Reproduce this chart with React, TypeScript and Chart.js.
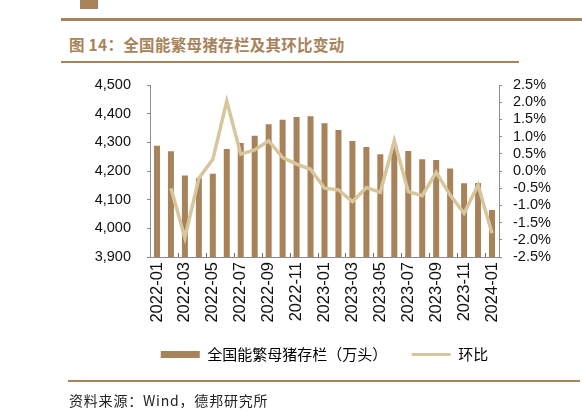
import React, { useEffect, useRef } from "react";
import { Chart, registerables } from "chart.js";

Chart.register(...registerables);

const months: string[] = [
  "2022-01", "2022-02", "2022-03", "2022-04", "2022-05", "2022-06", "2022-07",
  "2022-08", "2022-09", "2022-10", "2022-11", "2022-12", "2023-01", "2023-02",
  "2023-03", "2023-04", "2023-05", "2023-06", "2023-07", "2023-08", "2023-09",
  "2023-10", "2023-11", "2023-12", "2024-01",
];

const sowStock: number[] = [
  4288, 4269, 4184, 4175, 4190, 4277, 4298, 4323, 4363, 4379, 4388, 4391, 4367,
  4343, 4305, 4284, 4258, 4290, 4270, 4241, 4238, 4209, 4157, 4158, 4064,
];

const momChange: (number | null)[] = [
  null, -0.5, -1.94, -0.21, 0.34, 2.03, 0.49, 0.61, 0.88, 0.39, 0.2, 0.05, -0.5,
  -0.55, -0.89, -0.48, -0.62, 0.88, -0.6, -0.72, -0.04, -0.7, -1.23, -0.41, -1.81,
];

const barLabel = "全国能繁母猪存栏（万头）";
const lineLabel = "环比";
const titleText = "图 14：全国能繁母猪存栏及其环比变动";
const sourceText = "资料来源：Wind，德邦研究所";

const BAR_COLOR = "#A8835A";
const LINE_COLOR = "#D7C59C";
const ACCENT = "#A8835A";
const AXIS_COLOR = "#8c8c8c";
const LATIN = "'Liberation Sans', Arial, sans-serif";
const CJK = "'Noto Sans CJK SC', 'Noto Sans', sans-serif";

const xTickPlugin = {
  id: "xInnerTicks",
  afterDatasetsDraw(chart: any) {
    const x = chart.scales.x;
    const ctx = chart.ctx;
    const bottom = chart.chartArea.bottom;
    ctx.save();
    ctx.strokeStyle = "#6e6e6e";
    ctx.lineWidth = 1;
    for (let i = 1; i + 1 < months.length; i += 2) {
      const px = (x.getPixelForValue(i) + x.getPixelForValue(i + 1)) / 2;
      ctx.beginPath();
      ctx.moveTo(Math.round(px) + 0.5, bottom);
      ctx.lineTo(Math.round(px) + 0.5, bottom - 4);
      ctx.stroke();
    }
    ctx.restore();
  },
};

export default function App() {
  const ref = useRef<HTMLCanvasElement | null>(null);

  useEffect(() => {
    if (!ref.current) return;
    const chart = new Chart(ref.current, {
      type: "bar",
      data: {
        labels: months,
        datasets: [
          {
            type: "bar",
            label: barLabel,
            data: sowStock,
            backgroundColor: BAR_COLOR,
            yAxisID: "y",
            barPercentage: 0.43,
            categoryPercentage: 1,
            order: 2,
          },
          {
            type: "line",
            label: lineLabel,
            data: momChange,
            borderColor: LINE_COLOR,
            backgroundColor: LINE_COLOR,
            borderWidth: 3.5,
            pointRadius: 0,
            tension: 0,
            yAxisID: "y1",
            order: 1,
          } as any,
        ],
      },
      plugins: [xTickPlugin],
      options: {
        animation: false,
        responsive: false,
        maintainAspectRatio: false,
        layout: { padding: { top: 85, bottom: 47, left: 0, right: 0 } },
        plugins: {
          title: { display: false },
          tooltip: { enabled: false },
          legend: {
            position: "bottom",
            fullSize: false,
            labels: {
              usePointStyle: true,
              pointStyleWidth: 39,
              boxWidth: 39,
              boxHeight: 7,
              padding: 2,
              color: "#222",
              font: { family: CJK, size: 15 },
              generateLabels: () => [
                {
                  text: barLabel + "　　",
                  fillStyle: BAR_COLOR,
                  strokeStyle: BAR_COLOR,
                  lineWidth: 0,
                  pointStyle: "rect",
                  hidden: false,
                  datasetIndex: 0,
                },
                {
                  text: lineLabel,
                  fillStyle: LINE_COLOR,
                  strokeStyle: LINE_COLOR,
                  lineWidth: 3,
                  pointStyle: "line",
                  hidden: false,
                  datasetIndex: 1,
                },
              ],
            },
          },
        },
        scales: {
          x: {
            offset: true,
            grid: { display: false, drawTicks: false },
            border: { display: true, color: AXIS_COLOR, width: 1 },
            ticks: {
              autoSkip: false,
              maxRotation: 90,
              minRotation: 90,
              padding: 5,
              color: "#111",
              font: { family: LATIN, size: 16.5 },
              callback: (_v: any, i: number) => (i % 2 === 0 ? months[i] : ""),
            },
            afterFit: (s: any) => {
              s.height = 88;
            },
          },
          y: {
            position: "left",
            min: 3900,
            max: 4500,
            grid: {
              drawOnChartArea: false,
              drawTicks: true,
              tickLength: 3,
              color: AXIS_COLOR,
            },
            border: { display: true, color: AXIS_COLOR, width: 1 },
            ticks: {
              stepSize: 100,
              autoSkip: false,
              padding: 16,
              color: "#111",
              font: { family: LATIN, size: 14.5 },
              callback: (v: any) => Number(v).toLocaleString("en-US"),
            },
            afterFit: (s: any) => {
              s.width = 150;
            },
          },
          y1: {
            position: "right",
            min: -2.5,
            max: 2.5,
            grid: {
              drawOnChartArea: false,
              drawTicks: true,
              tickLength: 3,
              color: AXIS_COLOR,
            },
            border: { display: true, color: AXIS_COLOR, width: 1 },
            ticks: {
              stepSize: 0.5,
              autoSkip: false,
              padding: 11,
              color: "#111",
              font: { family: LATIN, size: 14.5 },
              callback: (v: any) => Number(v).toFixed(1) + "%",
            },
            afterFit: (s: any) => {
              s.width = 83;
            },
          },
        },
      },
    });
    return () => chart.destroy();
  }, []);

  return (
    <div
      style={{
        position: "fixed",
        left: 0,
        top: 0,
        width: 582,
        height: 419,
        background: "#fff",
        overflow: "hidden",
      }}
    >
      <div
        style={{
          position: "absolute",
          left: 80,
          top: 0,
          width: 18,
          height: 9,
          background: ACCENT,
        }}
      />
      <div
        style={{
          position: "absolute",
          left: 61,
          top: 18,
          width: 521,
          height: 3,
          background: ACCENT,
        }}
      />
      <div
        style={{
          position: "absolute",
          left: 69,
          top: 33,
          fontFamily: CJK,
          fontWeight: 700,
          fontSize: 15.5,
          lineHeight: "22px",
          letterSpacing: "0.3px",
          color: ACCENT,
          whiteSpace: "nowrap",
        }}
      >
        {titleText}
      </div>
      <div
        style={{
          position: "absolute",
          left: 61,
          top: 61,
          width: 458,
          height: 2,
          background: ACCENT,
        }}
      />
      <canvas
        ref={ref}
        width={582}
        height={419}
        style={{ position: "absolute", left: 0, top: 0, width: 582, height: 419 }}
      />
      <div
        style={{
          position: "absolute",
          left: 68,
          top: 380,
          width: 512,
          height: 2,
          background: ACCENT,
        }}
      />
      <div
        style={{
          position: "absolute",
          left: 69,
          top: 391,
          fontFamily: CJK,
          fontSize: 14,
          lineHeight: "18px",
          letterSpacing: "0.8px",
          color: "#222",
          whiteSpace: "nowrap",
        }}
      >
        {sourceText}
      </div>
    </div>
  );
}
